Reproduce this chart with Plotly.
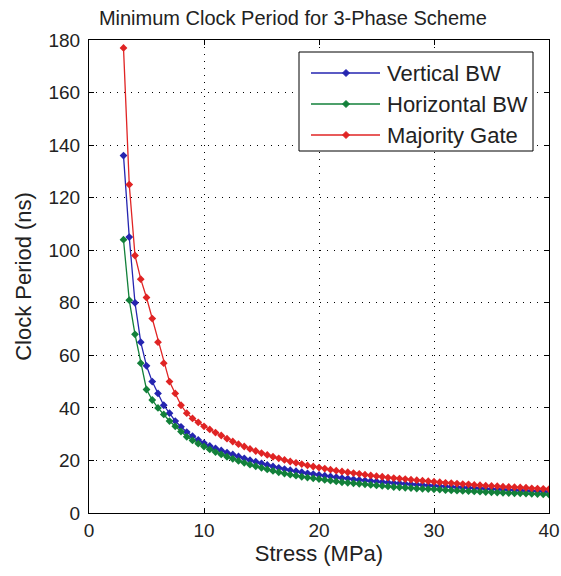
import plotly.graph_objects as go

stress = [3 + 0.5 * i for i in range(75)]

vertical_bw = [136, 105, 80, 65, 56, 50, 45.5, 41, 38, 35, 32.8, 30.8, 29.2, 27.8, 26.6,
               25.5, 24.6, 23.8, 23.0, 22.3, 21.5, 20.8, 20.1, 19.5, 18.9, 18.3, 17.7, 17.2,
               16.7, 16.3, 15.9, 15.5, 15.1, 14.8, 14.5, 14.2, 13.9, 13.6, 13.3, 13.1, 12.8,
               12.6, 12.4, 12.2, 12.0, 11.8, 11.6, 11.4, 11.3, 11.1, 10.9, 10.8, 10.7, 10.5,
               10.4, 10.2, 10.1, 10.0, 9.8, 9.7, 9.6, 9.5, 9.4, 9.2, 9.1, 9.0, 8.9, 8.8, 8.7,
               8.6, 8.5, 8.4, 8.3, 8.2, 8.1]

horizontal_bw = [104, 81, 68, 57, 47, 43, 40, 37.5, 35, 33, 31, 29.0, 27.6, 26.4, 25.3,
                 24.2, 23.2, 22.3, 21.4, 20.6, 19.8, 19.1, 18.4, 17.8, 17.2, 16.6, 16.0, 15.5,
                 15.0, 14.6, 14.2, 13.8, 13.5, 13.2, 12.9, 12.6, 12.3, 12.0, 11.7, 11.5, 11.3,
                 11.1, 10.9, 10.7, 10.5, 10.3, 10.1, 9.9, 9.8, 9.6, 9.5, 9.3, 9.2, 9.1, 9.0,
                 8.9, 8.7, 8.6, 8.5, 8.4, 8.3, 8.2, 8.1, 8.0, 7.9, 7.8, 7.7, 7.6, 7.5, 7.5,
                 7.4, 7.3, 7.2, 7.1, 7.0]

majority_gate = [177, 125, 98, 89, 82, 74, 65, 57, 50, 45.5, 41, 38, 36, 34.5, 33,
                 31.8, 30.6, 29.5, 28.3, 27.2, 26.2, 25.3, 24.4, 23.6, 22.8, 22.1, 21.4, 20.8,
                 20.2, 19.6, 19.1, 18.6, 18.1, 17.7, 17.3, 16.9, 16.5, 16.1, 15.8, 15.5, 15.2,
                 14.9, 14.6, 14.3, 14.0, 13.8, 13.5, 13.3, 13.1, 12.9, 12.7, 12.5, 12.3, 12.1,
                 11.9, 11.7, 11.5, 11.4, 11.2, 11.0, 10.9, 10.7, 10.6, 10.4, 10.3, 10.2, 10.0,
                 9.9, 9.8, 9.7, 9.6, 9.4, 9.3, 9.2, 9.1]

series_names = ["Vertical BW", "Horizontal BW", "Majority Gate"]
series_values = [vertical_bw, horizontal_bw, majority_gate]
series_colors = ["#2525b0", "#12803a", "#e02424"]

FONT = "Liberation Sans, Arial, sans-serif"
TXT = "#222"

# plot-area geometry (pixels)
W, H = 561, 576
ML, MR, MT, MB = 89, 12, 40, 63
PW, PH = W - ML - MR, H - MT - MB


def px_x(px):
    return (px - ML) / PW


def px_y(py):
    return (H - MB - py) / PH


fig = go.Figure()
for name, ys, col in zip(series_names, series_values, series_colors):
    fig.add_trace(go.Scatter(
        x=stress, y=ys, name=name, mode="lines+markers",
        line=dict(color=col, width=1.3),
        marker=dict(symbol="diamond", size=6, color=col),
        showlegend=False,
    ))

# MATLAB-style legend box drawn by hand
shapes = [dict(type="rect", xref="paper", yref="paper",
               x0=px_x(299), x1=px_x(533), y0=px_y(151), y1=px_y(52),
               line=dict(color="black", width=1), fillcolor="white", layer="above")]
annotations = []
for i, (name, col) in enumerate(zip(series_names, series_colors)):
    cy = 73 + 31 * i
    shapes.append(dict(type="line", xref="paper", yref="paper",
                       x0=px_x(311), x1=px_x(380), y0=px_y(cy), y1=px_y(cy),
                       line=dict(color=col, width=1.3), layer="above"))
    mx, d = 346, 3.5
    path = (f"M{px_x(mx - d)},{px_y(cy)} L{px_x(mx)},{px_y(cy - d)} "
            f"L{px_x(mx + d)},{px_y(cy)} L{px_x(mx)},{px_y(cy + d)} Z")
    shapes.append(dict(type="path", xref="paper", yref="paper", path=path,
                       fillcolor=col, line=dict(color=col, width=1), layer="above"))
    annotations.append(dict(text=name, xref="paper", yref="paper",
                            x=px_x(385), y=px_y(cy), xanchor="left", yanchor="middle",
                            showarrow=False, font=dict(family=FONT, size=22, color=TXT)))

axis_common = dict(
    showline=True, linecolor="black", linewidth=1, mirror="allticks",
    ticks="inside", ticklen=5, tickcolor="black",
    showgrid=True, gridcolor="black", gridwidth=1, griddash="1px,6px",
    zeroline=False, automargin=False,
    tickfont=dict(family=FONT, size=19, color=TXT),
)

fig.update_layout(
    width=W, height=H,
    margin=dict(l=ML, r=MR, t=MT, b=MB),
    paper_bgcolor="white", plot_bgcolor="white",
    title=dict(text="Minimum Clock Period for 3-Phase Scheme", x=0.522, xref="container",
               xanchor="center", y=1 - 18 / H, yref="container", yanchor="middle",
               font=dict(family=FONT, size=20, color=TXT)),
    xaxis=dict(range=[0, 40], tickvals=[0, 10, 20, 30, 40],
               title=dict(text="Stress (MPa)", font=dict(family=FONT, size=22, color=TXT), standoff=2),
               **axis_common),
    yaxis=dict(range=[0, 180], tickvals=list(range(0, 181, 20)), ticklabelstandoff=4,
               title=dict(text="Clock Period (ns)", font=dict(family=FONT, size=22, color=TXT), standoff=10),
               **axis_common),
    shapes=shapes,
    annotations=annotations,
    showlegend=False,
)

fig.write_html("out.html")
